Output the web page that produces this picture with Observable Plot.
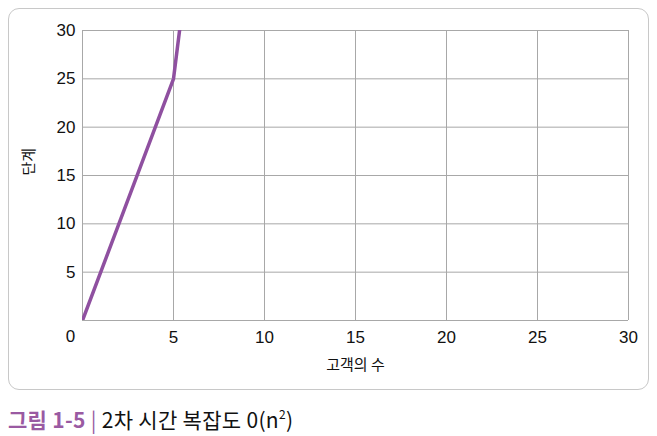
<!DOCTYPE html>
<html>
<head>
<meta charset="utf-8">
<script src="https://cdn.jsdelivr.net/npm/d3@7"></script>
<script src="https://cdn.jsdelivr.net/npm/@observablehq/plot@0.6"></script>
<style>
  body { margin: 0; background: #fff; font-family: "Liberation Sans", Arial, sans-serif; }
  #wrap { position: relative; width: 657px; height: 436px; }
  #box { position: absolute; left: 8px; top: 8px; width: 641px; height: 382px; border: 1.3px solid #c8c8c8; border-radius: 11px; box-sizing: border-box; }
  #chart { position: absolute; left: 0; top: 0; }
  #caption { position: absolute; left: 8px; top: 406px; font-size: 21px; font-family: "Noto Sans CJK KR", "Liberation Sans", sans-serif; line-height: 26px; color: #111; white-space: nowrap; letter-spacing: 0.3px; }
  #caption .fig { color: #9a5aa2; font-weight: bold; }
  #caption .bar { color: #9a5aa2; }
</style>
</head>
<body>
<div id="wrap">
  <div id="box"></div>
  <div id="chart"></div>
  <div id="caption"><span class="fig">그림 1-5</span><span class="bar"> | </span>2차 시간 복잡도 0(n<sup style="font-size:12px;vertical-align:9px;line-height:0">2</sup>)</div>
</div>
<script>
const customers = [0, 5, 10];
const steps = [0, 25, 100];
const xTicks = [5, 10, 15, 20, 25, 30];
const yTicks = [5, 10, 15, 20, 25, 30];
const xLabel = "고객의 수";
const yLabel = "단계";

const data = customers.map((c, i) => ({x: c, y: steps[i]}));
const gridColor = "#a8a8a8";

const chart = Plot.plot({
  width: 657,
  height: 395,
  marginLeft: 82,
  marginRight: 29,
  marginTop: 30,
  marginBottom: 75,
  x: {domain: [0, 30]},
  y: {domain: [0, 30]},
  style: {fontFamily: "'Liberation Sans', Arial, sans-serif", background: "transparent"},
  marks: [
    Plot.gridX(xTicks, {stroke: gridColor, strokeOpacity: 1, strokeWidth: 1}),
    Plot.gridY(yTicks, {stroke: gridColor, strokeOpacity: 1, strokeWidth: 1}),
    Plot.ruleX([0], {stroke: gridColor, strokeWidth: 1}),
    Plot.ruleY([0], {stroke: gridColor, strokeWidth: 1}),
    Plot.axisX(xTicks, {tickSize: 0, tickPadding: 10, fontSize: 17, fill: "#111", label: null}),
    Plot.text([0], {x: d => d, frameAnchor: "bottom", dy: 21, dx: -12, text: d => String(d), fontSize: 17, fill: "#111"}),
    Plot.axisY(yTicks, {tickSize: 0, tickPadding: 7, fontSize: 17, fill: "#111", label: null}),
    Plot.text([xLabel], {frameAnchor: "bottom", dy: 49, text: d => d, fontSize: 15, fill: "#111", fontFamily: "'Noto Sans CJK KR', sans-serif"}),
    Plot.text([yLabel], {frameAnchor: "left", dx: -53, rotate: -90, text: d => d, fontSize: 15, fill: "#111", fontFamily: "'Noto Sans CJK KR', sans-serif"}),
    Plot.line(data, {x: "x", y: "y", stroke: "#8f50a0", strokeWidth: 3.5, clip: true})
  ]
});
document.getElementById("chart").appendChild(chart);
</script>
</body>
</html>
